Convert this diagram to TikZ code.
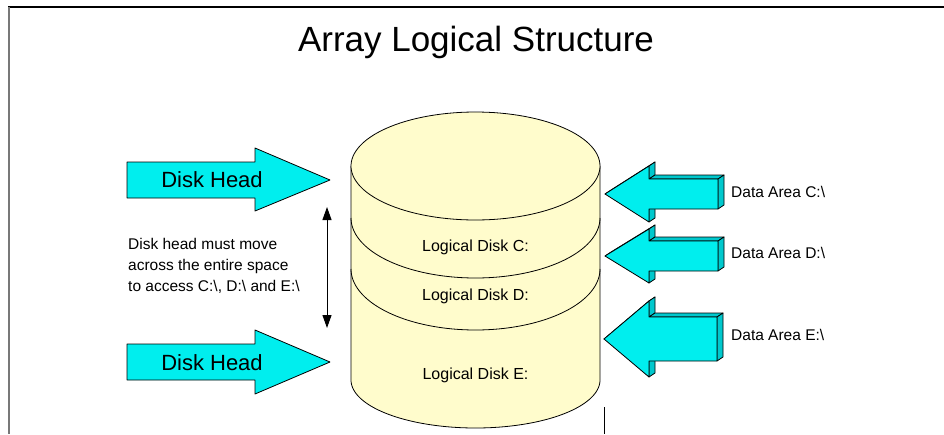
\documentclass[tikz,border=0pt]{standalone}
\usepackage{fontspec}
\setmainfont{Liberation Sans}
\usetikzlibrary{arrows.meta}

\definecolor{cylfill}{RGB}{255,252,204}
\definecolor{headcyan}{RGB}{0,238,238}
\definecolor{sidecyan}{RGB}{0,200,205}
\definecolor{leftrule}{RGB}{120,120,120}

\tikzset{
  outline/.style={draw=black, line width=0.8pt, line join=round},
  headarrow/.style={outline, fill=headcyan},
  sideface/.style={outline, fill=sidecyan},
  frontface/.style={outline, fill=headcyan},
  cylpart/.style={outline, fill=cylfill},
  titletext/.style={inner sep=0pt, font=\fontsize{35}{42}\selectfont},
  headtext/.style={inner sep=0pt, font=\fontsize{22}{26}\selectfont},
  disktext/.style={inner sep=0pt, font=\fontsize{16}{19}\selectfont},
  areatext/.style={inner sep=0pt, anchor=west, font=\fontsize{15.5}{19}\selectfont},
  notetext/.style={inner sep=0pt, anchor=west, align=left, font=\fontsize{15.5}{21}\selectfont},
  spanarrow/.style={line width=1pt, {Triangle[length=13pt,width=9pt]}-{Triangle[length=13pt,width=9pt]}}
}

% Extruded left-pointing arrow:
% #1 tip x, #2 centre y, #3 head back x, #4 head half height,
% #5 body half height, #6 body end x
\newcommand\extrudedarrow[6]{%
  \def\dx{6}\def\dy{-4}%
  % upper slanted face
  \path[sideface] (#1,#2) -- (#3,#2-#4) -- (#3+\dx,#2-#4+\dy) -- (#1+\dx,#2+\dy) -- cycle;
  % upper flange of the head
  \path[sideface] (#3,#2-#4) -- (#3,#2-#5) -- (#3+\dx,#2-#5+\dy) -- (#3+\dx,#2-#4+\dy) -- cycle;
  % top of the shaft
  \path[sideface] (#3,#2-#5) -- (#6,#2-#5) -- (#6+\dx,#2-#5+\dy) -- (#3+\dx,#2-#5+\dy) -- cycle;
  % end of the shaft
  \path[sideface] (#6,#2-#5) -- (#6,#2+#5) -- (#6+\dx,#2+#5+\dy) -- (#6+\dx,#2-#5+\dy) -- cycle;
  % lower flange of the head
  \path[sideface] (#3,#2+#5) -- (#3,#2+#4) -- (#3+\dx,#2+#4+\dy) -- (#3+\dx,#2+#5+\dy) -- cycle;
  % front face
  \path[frontface] (#1,#2) -- (#3,#2-#4) -- (#3,#2-#5) -- (#6,#2-#5) -- (#6,#2+#5)
    -- (#3,#2+#5) -- (#3,#2+#4) -- cycle;
}

\begin{document}
\begin{tikzpicture}[x=1pt, y=-1pt]
  \useasboundingbox (0,0) rectangle (944,434);

  % page frame
  \draw[line width=1.5pt] (8,7) -- (944,7);
  \draw[leftrule, line width=2pt] (8.5,7) -- (8.5,434);
  \draw[line width=1pt] (604,407) -- (604,434);

  % title
  \node[titletext] (title) at (476,42) {Array Logical Structure};

  % cylinder body
  \path[cylpart] (351,166) -- (351,380)
    -- plot[domain=180:0, samples=90] ({475.5+124.5*cos(\x)}, {380+48*sin(\x)})
    -- (600,166) -- cycle;
  % partition lines
  \draw[outline] plot[domain=180:0, samples=90] ({475.5+124.5*cos(\x)}, {218+60*sin(\x)});
  \draw[outline] plot[domain=180:0, samples=90] ({475.5+124.5*cos(\x)}, {269+61*sin(\x)});
  % top face
  \path[cylpart] plot[domain=0:360, samples=120] ({475.5+124.5*cos(\x)}, {166+54*sin(\x)}) -- cycle;

  \node[disktext] (diskC) at (475.5,247) {Logical Disk C:};
  \node[disktext] (diskD) at (475.5,296) {Logical Disk D:};
  \node[disktext] (diskE) at (475.5,375) {Logical Disk E:};

  % disk head arrows
  \path[headarrow] (127,162) -- (255,162) -- (255,148) -- (330,180) -- (255,211)
    -- (255,198) -- (127,198) -- cycle;
  \node[headtext] (headA) at (212,180) {Disk Head};
  \path[headarrow] (127,344) -- (255,344) -- (255,330) -- (330,362) -- (255,394)
    -- (255,380) -- (127,380) -- cycle;
  \node[headtext] (headB) at (212,363) {Disk Head};

  % head travel
  \coordinate (travelTop) at (327,207);
  \coordinate (travelBot) at (327,328);
  \draw[spanarrow] (travelTop) -- (travelBot);
  \node[notetext] (note) at (128,266) {Disk head must move\\across the entire space\\to access C:\textbackslash, D:\textbackslash\ and E:\textbackslash};

  % data area arrows
  \extrudedarrow{605}{194}{649}{28}{15}{718}
  \node[areatext] (areaC) at (731,192) {Data Area C:\textbackslash};
  \extrudedarrow{605}{256}{649}{27}{15}{718}
  \node[areatext] (areaD) at (731,253) {Data Area D:\textbackslash};
  \extrudedarrow{604}{339}{649}{38}{22}{717}
  \node[areatext] (areaE) at (731,335) {Data Area E:\textbackslash};
\end{tikzpicture}
\end{document}
